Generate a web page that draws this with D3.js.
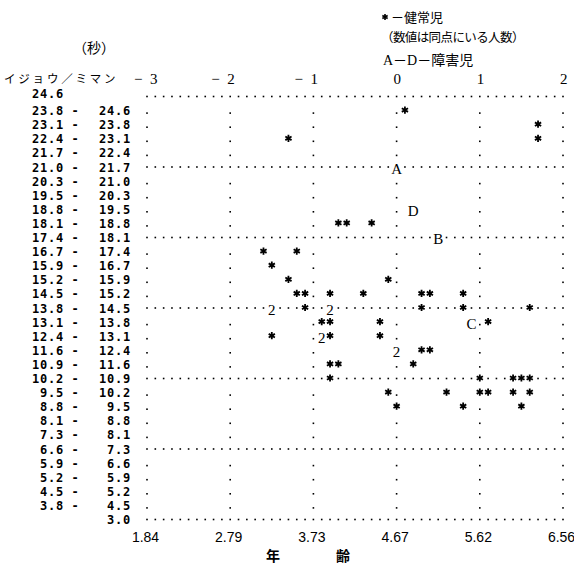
<!DOCTYPE html>
<html><head><meta charset="utf-8">
<script src="https://cdn.jsdelivr.net/npm/d3@7"></script>
<style>body{margin:0;background:#fff}svg{display:block}</style>
</head><body><svg id="c" width="574" height="564"></svg>
<script>
// ---- data ----
const rowLower = ["24.6","23.8","23.1","22.4","21.7","21.0","20.3","19.5","18.8","18.1","17.4","16.7","15.9","15.2","14.5","13.8","13.1","12.4","11.6","10.9","10.2","9.5","8.8","8.1","7.3","6.6","5.9","5.2","4.5","3.8",""];
const rowUpper = ["","24.6","23.8","23.1","22.4","21.7","21.0","20.3","19.5","18.8","18.1","17.4","16.7","15.9","15.2","14.5","13.8","13.1","12.4","11.6","10.9","10.2","9.5","8.8","8.1","7.3","6.6","5.9","5.2","4.5","3.0"];
const zTicks = [-3,-2,-1,0,1,2];
const zTickLabels = ["−  3","−  2","−  1","0","1","2"];
const ageTickLabels = ["1.84","2.79","3.73","4.67","5.62","6.56"];
// healthy children: [z-score, row (lower bound of seconds interval)]
const healthy = [
  [0.1,"23.8"],
  [1.7,"23.1"],
  [-1.3,"22.4"],[1.7,"22.4"],
  [-0.7,"18.1"],[-0.6,"18.1"],[-0.3,"18.1"],
  [-1.6,"16.7"],[-1.2,"16.7"],
  [-1.5,"15.9"],
  [-1.3,"15.2"],[-0.1,"15.2"],
  [-1.2,"14.5"],[-1.1,"14.5"],[-0.8,"14.5"],[-0.4,"14.5"],[0.3,"14.5"],[0.4,"14.5"],[0.8,"14.5"],
  [-1.1,"13.8"],[0.3,"13.8"],[0.8,"13.8"],[1.6,"13.8"],
  [-0.9,"13.1"],[-0.8,"13.1"],[-0.2,"13.1"],[1.1,"13.1"],
  [-1.5,"12.4"],[-0.8,"12.4"],[-0.2,"12.4"],
  [0.3,"11.6"],[0.4,"11.6"],
  [-0.8,"10.9"],[-0.7,"10.9"],[0.2,"10.9"],
  [-0.8,"10.2"],[1.0,"10.2"],[1.4,"10.2"],[1.5,"10.2"],[1.6,"10.2"],
  [-0.1,"9.5"],[0.6,"9.5"],[1.0,"9.5"],[1.1,"9.5"],[1.4,"9.5"],[1.6,"9.5"],
  [0.0,"8.8"],[0.8,"8.8"],[1.5,"8.8"]
];
// coincident points: [z, row, count]
const coincident = [[-1.5,"13.8",2],[-0.8,"13.8",2],[-0.9,"12.4",2],[0.0,"11.6",2]];
// disabled children: [label, z, row]
const disabled = [["A",0.0,"21.0"],["B",0.5,"17.4"],["C",0.9,"13.1"],["D",0.2,"18.8"]];

// ---- layout ----
const svg = d3.select("#c");
const x = d3.scaleLinear().domain([-3,2]).range([147,563]);
const rows = d3.range(rowLower.length);
const y = d3.scalePoint().domain(rows).range([99,522]);
const rowIdx = r => rowLower.indexOf(r);
const col = z => Math.round((z+3)*10);
const colZ = c => -3 + c/10;
const isLine = i => i % 5 === 0;

const occupied = new Set();
healthy.forEach(d=>occupied.add(col(d[0])+"|"+rowIdx(d[1])));
coincident.forEach(d=>occupied.add(col(d[0])+"|"+rowIdx(d[1])));
disabled.forEach(d=>occupied.add(col(d[1])+"|"+rowIdx(d[2])));

// grid dots
const dots = [];
rows.forEach(i=>{
  const cols = isLine(i) ? d3.range(0,51) : d3.range(0,51,10);
  cols.forEach(c=>{ if(!occupied.has(c+"|"+i)) dots.push({c,i}); });
});
svg.append("g").selectAll("rect").data(dots).join("rect")
  .attr("x",d=>x(colZ(d.c))-0.8)
  .attr("y",d=>y(d.i)-(isLine(d.i)?2.5:0)-0.8)
  .attr("width",1.6).attr("height",1.6).attr("fill","#000");

// row labels
const lab = svg.append("g").attr("font-family","'DejaVu Sans Mono',monospace")
  .attr("font-weight","bold").attr("font-size",12).attr("fill","#000");
rows.forEach(i=>{
  const by = y(i)+2 - (i===0?3:0);
  if(rowLower[i]) lab.append("text").attr("x",64).attr("y",by).attr("text-anchor","end").attr("letter-spacing",0.8).text(rowLower[i]);
  if(rowLower[i] && rowUpper[i]) lab.append("text").attr("x",75).attr("y",by).attr("text-anchor","middle").text("-");
  if(rowUpper[i]) lab.append("text").attr("x",131).attr("y",by).attr("text-anchor","end").attr("letter-spacing",0.8).text(rowUpper[i]);
});

// healthy stars
const star = d3.symbol(d3.symbolAsterisk, 36);
svg.append("g").selectAll("path").data(healthy).join("path")
  .attr("d",star).attr("transform",d=>`translate(${x(d[0])},${y(rowIdx(d[1]))-3})`)
  .attr("fill","none").attr("stroke","#000").attr("stroke-width",1.8);

// coincident counts and disabled letters
const serif = "'Liberation Serif','Times New Roman',serif";
svg.append("g").selectAll("text").data(coincident).join("text")
  .attr("x",d=>x(d[0])).attr("y",d=>y(rowIdx(d[1]))-1)
  .attr("text-anchor","middle").attr("dominant-baseline","central")
  .attr("font-family",serif).attr("font-size",15).text(d=>d[2]);
svg.append("g").selectAll("text").data(disabled).join("text")
  .attr("x",d=>x(d[1])).attr("y",d=>y(rowIdx(d[2]))-1)
  .attr("text-anchor","middle").attr("dominant-baseline","central")
  .attr("font-family",serif).attr("font-size",15).text(d=>d[0]);

// top axis (z-score)
const topAxis = svg.append("g").attr("transform","translate(0,84)")
  .call(d3.axisTop(x).tickValues(zTicks).tickFormat((d,i)=>zTickLabels[i]).tickSize(0).tickPadding(0));
topAxis.select(".domain").remove();
topAxis.selectAll("text").attr("font-family",serif).attr("font-size",15).attr("fill","#000")
  .style("white-space","pre")
  .attr("text-anchor","end").attr("dx",(d)=>d===-3?10:4).attr("dy",0).attr("y",0);

// bottom axis (age)
const botAxis = svg.append("g").attr("transform","translate(0,542)")
  .call(d3.axisBottom(x).tickValues(zTicks).tickFormat((d,i)=>ageTickLabels[i]).tickSize(0).tickPadding(0));
botAxis.select(".domain").remove();
botAxis.selectAll("text").attr("font-family","'Liberation Sans',Arial,sans-serif").attr("font-size",14).attr("fill","#000")
  .attr("dy",0).attr("y",0).attr("dx",-2);

// titles
const jp = "'Noto Sans CJK JP',sans-serif";
svg.append("text").attr("x",73).attr("y",53).attr("font-family",jp).attr("font-size",14).text("（秒）");
svg.append("text").attr("x",4).attr("y",83).attr("font-family",jp).attr("font-size",11.5).attr("letter-spacing",2.8).text("イジョウ／ミマン");
svg.append("text").attr("x",266).attr("y",561).attr("font-family",jp).attr("font-size",14).attr("font-weight","bold").text("年");
svg.append("text").attr("x",336).attr("y",561).attr("font-family",jp).attr("font-size",14).attr("font-weight","bold").text("齢");

// legend
svg.append("path").attr("d",d3.symbol(d3.symbolAsterisk,26)).attr("transform","translate(385,17)")
  .attr("fill","none").attr("stroke","#000").attr("stroke-width",1.6);
svg.append("text").attr("x",391).attr("y",22).attr("font-family",jp).attr("font-size",13).text("－健常児");
svg.append("text").attr("x",381).attr("y",42).attr("font-family",jp).attr("font-size",12.5).attr("letter-spacing",-0.6).text("（数値は同点にいる人数）");
svg.append("text").attr("x",383).attr("y",65).attr("font-family",serif+","+jp).attr("font-size",14).text("A－D－障害児");
</script></body></html>
